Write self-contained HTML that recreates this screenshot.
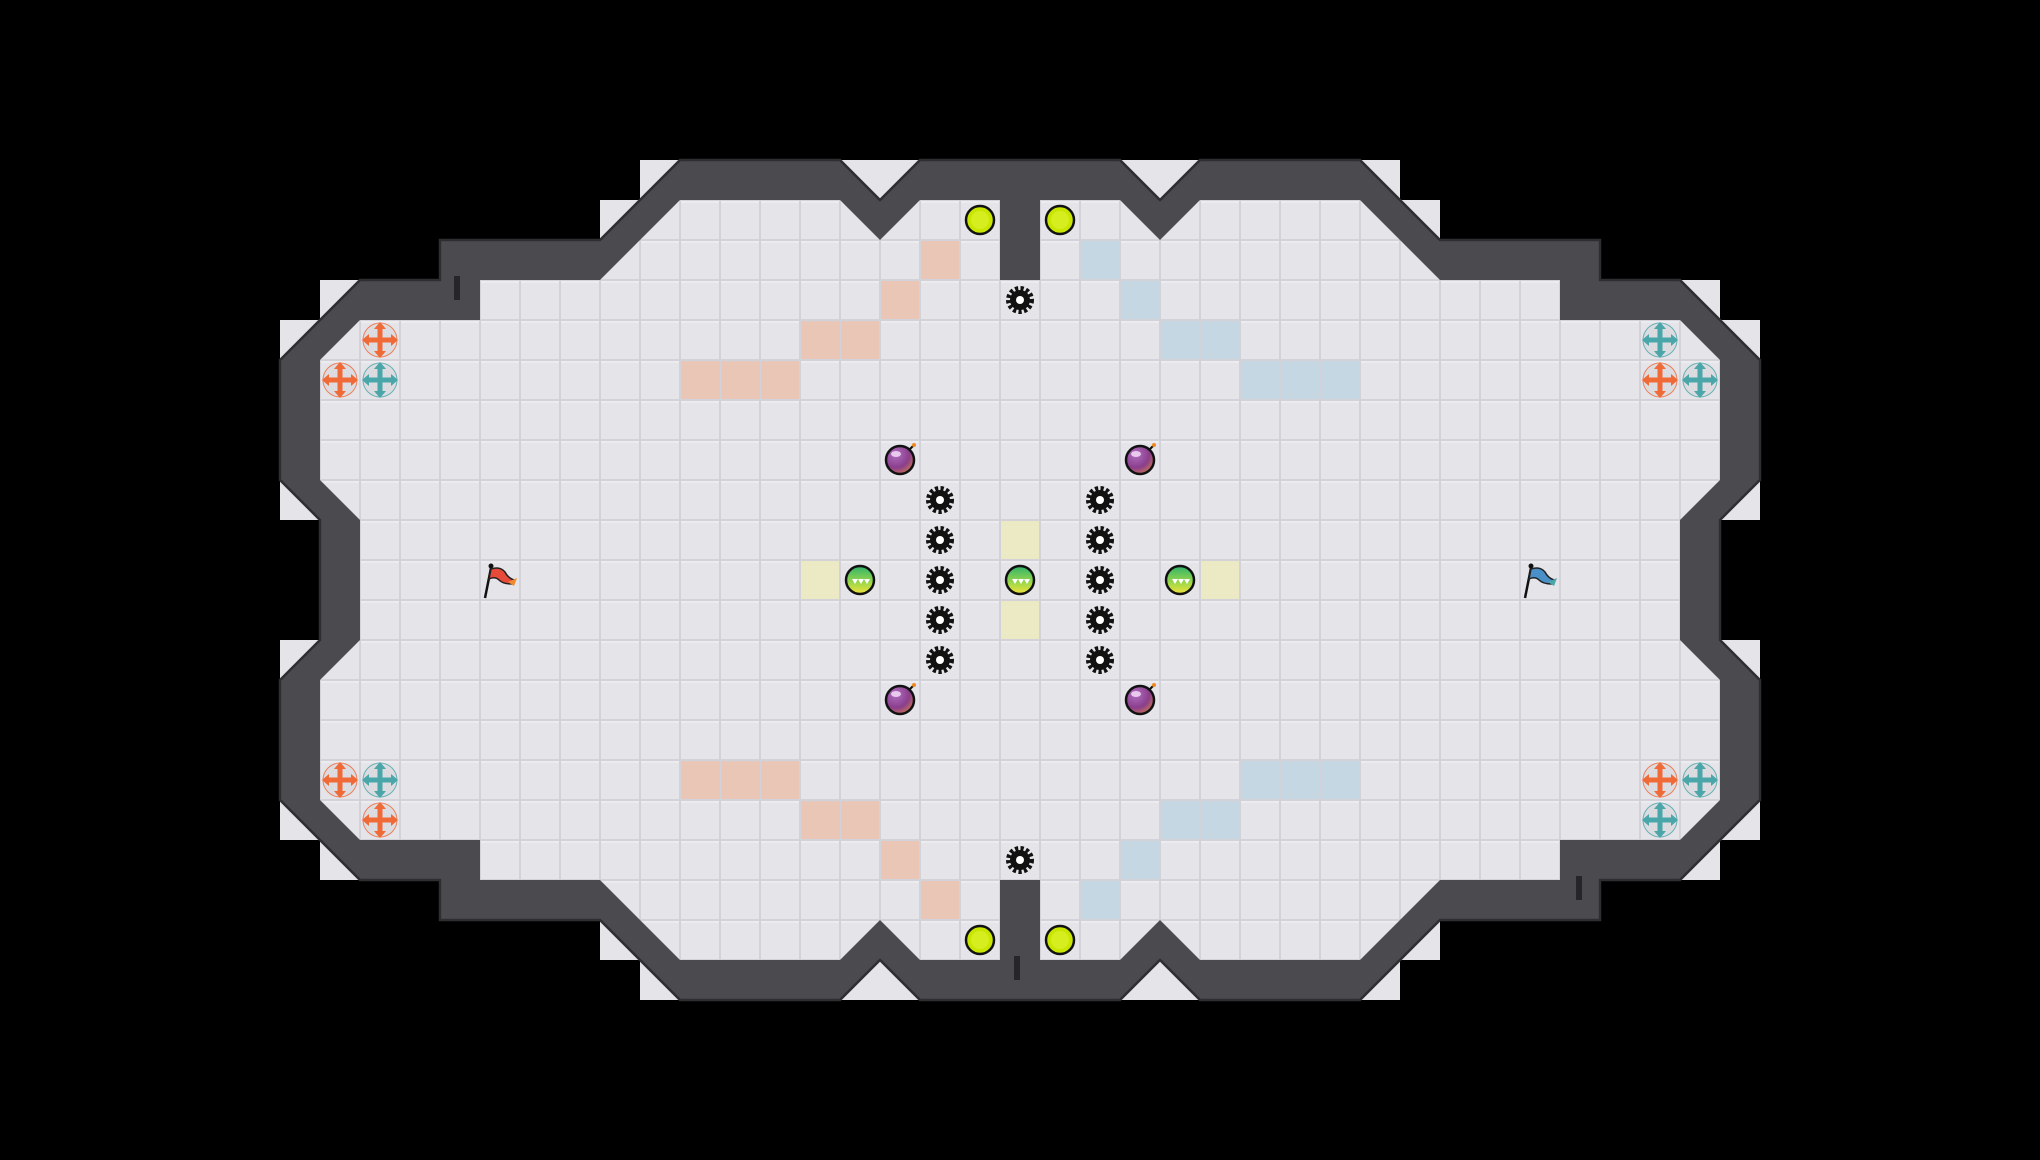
<!DOCTYPE html>
<html><head><meta charset="utf-8"><style>
html,body{margin:0;padding:0;background:#000;width:2040px;height:1160px;overflow:hidden}
svg{display:block}
</style></head><body>
<svg width="2040" height="1160" viewBox="0 0 2040 1160" xmlns="http://www.w3.org/2000/svg">
<defs>
<pattern id="tile" x="280" y="160" width="40" height="40" patternUnits="userSpaceOnUse">
<rect width="40" height="40" fill="#d2d2d8"/>
<rect x="1" y="1" width="38" height="38" fill="#e4e4e9"/>
<rect x="1" y="1" width="38" height="2" fill="#ececf0"/>
</pattern>
<pattern id="lines" x="280" y="160" width="40" height="40" patternUnits="userSpaceOnUse">
<path d="M0,0.5 H40 M0.5,0 V40" stroke="#d2d2d8" stroke-width="1.5" fill="none"/>
</pattern>
<radialGradient id="bombg" cx="0.35" cy="0.3" r="0.8"><stop offset="0" stop-color="#b070c0"/><stop offset="0.6" stop-color="#8a3e8c"/><stop offset="1" stop-color="#d27a4a"/></radialGradient>
<linearGradient id="ballg" x1="0" y1="0" x2="0" y2="1"><stop offset="0" stop-color="#2fb36a"/><stop offset="0.6" stop-color="#9ed84a"/><stop offset="1" stop-color="#f2e23a"/></linearGradient>
<g id="coin"><circle r="14" fill="#c9e600" stroke="#111" stroke-width="2.5"/><circle r="9" fill="#d6ee20"/></g>
<g id="gear"><circle r="11" fill="none" stroke="#111" stroke-width="6" stroke-dasharray="3 2.2"/><circle r="10" fill="#111"/><circle r="4" fill="#fff"/></g>
<g id="bomb"><circle r="14" fill="url(#bombg)" stroke="#111" stroke-width="2.5"/><ellipse cx="-4" cy="-6" rx="5" ry="3" fill="#e9c9ee"/><path d="M9,-10 l4,-4" stroke="#111" stroke-width="2"/><circle cx="14" cy="-15" r="2" fill="#f08a20"/></g>
<g id="ball"><circle r="14" fill="url(#ballg)" stroke="#111" stroke-width="2.5"/><path d="M-8,-1 l3,5 l3,-5 l3,5 l3,-5 l3,5 l3,-5 z" fill="#fff"/></g>
<g id="arr">
<circle r="17" fill="#dadadf" opacity="0.8"/>
<path d="M-12,0 H12 M0,-12 V12" stroke-width="5" fill="none"/>
<path d="M-18,0 l7,-6 v12 z M18,0 l-7,-6 v12 z M0,-18 l-6,7 h12 z M0,18 l-6,-7 h12 z" stroke="none"/>
</g>
<g id="arrO" fill="#f06a38" stroke="#f06a38"><use href="#arr"/></g>
<g id="arrT" fill="#4aa6a8" stroke="#4aa6a8"><use href="#arr"/></g>
</defs>
<g transform="translate(280,160) scale(40)">
<polygon fill="#e4e4e9" points="0,4 1,4 1,3 4,3 4,2 8,2 8,1 9,1 9,0 28,0 28,1 29,1 29,2 33,2 33,3 36,3 36,4 37,4 37,9 36,9 36,12 37,12 37,17 36,17 36,18 33,18 33,19 29,19 29,20 28,20 28,21 9,21 9,20 8,20 8,19 4,19 4,18 1,18 1,17 0,17 0,12 1,12 1,9 0,9"/>
</g>
<g fill="none" stroke="#d2d2d8" stroke-width="1.5">
<path d="M320,320 h40 M320,760 h40 M1680,320 h40 M1680,760 h40"/>
</g>
<g transform="translate(280,160) scale(40)">
<polygon fill="#4a4a4f" stroke="#2e2e32" stroke-width="0.06" stroke-linejoin="miter" points="0,8 0,5 2,3 4,3 4,2 8,2 10,0 14,0 15,1 16,0 21,0 22,1 23,0 27,0 29,2 33,2 33,3 35,3 37,5 37,8 36,9 36,12 37,13 37,16 35,18 33,18 33,19 29,19 27,21 23,21 22,20 21,21 16,21 15,20 14,21 10,21 8,19 4,19 4,18 2,18 0,16 0,13 1,12 1,9"/>
</g>
<polygon fill="url(#tile)" points="320,480 320,360 360,320 480,320 480,280 600,280 680,200 840,200 880,240 920,200 1000,200 1000,280 1040,280 1040,200 1120,200 1160,240 1200,200 1360,200 1440,280 1560,280 1560,320 1680,320 1720,360 1720,480 1680,520 1680,640 1720,680 1720,800 1680,840 1560,840 1560,880 1440,880 1360,960 1200,960 1160,920 1120,960 1040,960 1040,880 1000,880 1000,960 920,960 880,920 840,960 680,960 600,880 480,880 480,840 360,840 320,800 320,680 360,640 360,520"/>
<g fill="#e9c6b6">
<rect x="921" y="241" width="38" height="38"/><rect x="881" y="281" width="38" height="38"/><rect x="801" y="321" width="78" height="38"/><rect x="681" y="361" width="118" height="38"/>
<rect x="921" y="881" width="38" height="38"/><rect x="881" y="841" width="38" height="38"/><rect x="801" y="801" width="78" height="38"/><rect x="681" y="761" width="118" height="38"/>
</g>
<g fill="#c6d7e4">
<rect x="1081" y="241" width="38" height="38"/><rect x="1121" y="281" width="38" height="38"/><rect x="1161" y="321" width="78" height="38"/><rect x="1241" y="361" width="118" height="38"/>
<rect x="1081" y="881" width="38" height="38"/><rect x="1121" y="841" width="38" height="38"/><rect x="1161" y="801" width="78" height="38"/><rect x="1241" y="761" width="118" height="38"/>
</g>
<g fill="#ebeac4">
<rect x="1001" y="521" width="38" height="38"/><rect x="1001" y="601" width="38" height="38"/><rect x="801" y="561" width="38" height="38"/><rect x="1201" y="561" width="38" height="38"/>
</g>
<g fill="url(#lines)">
<rect x="800" y="320" width="81" height="41"/><rect x="680" y="360" width="121" height="41"/>
<rect x="800" y="800" width="81" height="41"/><rect x="680" y="760" width="121" height="41"/>
<rect x="1160" y="320" width="81" height="41"/><rect x="1240" y="360" width="121" height="41"/>
<rect x="1160" y="800" width="81" height="41"/><rect x="1240" y="760" width="121" height="41"/>
</g>
<g fill="#26262a">
<rect x="454" y="276" width="6" height="24"/><rect x="1014" y="956" width="6" height="24"/><rect x="1576" y="876" width="6" height="24"/>
</g>
<use href="#coin" x="980" y="220"/><use href="#coin" x="1060" y="220"/><use href="#coin" x="980" y="940"/><use href="#coin" x="1060" y="940"/>
<use href="#gear" x="1020" y="300"/><use href="#gear" x="1020" y="860"/>
<use href="#gear" x="940" y="500"/><use href="#gear" x="940" y="540"/><use href="#gear" x="940" y="580"/><use href="#gear" x="940" y="620"/><use href="#gear" x="940" y="660"/>
<use href="#gear" x="1100" y="500"/><use href="#gear" x="1100" y="540"/><use href="#gear" x="1100" y="580"/><use href="#gear" x="1100" y="620"/><use href="#gear" x="1100" y="660"/>
<use href="#bomb" x="900" y="460"/><use href="#bomb" x="1140" y="460"/><use href="#bomb" x="900" y="700"/><use href="#bomb" x="1140" y="700"/>
<use href="#ball" x="860" y="580"/><use href="#ball" x="1020" y="580"/><use href="#ball" x="1180" y="580"/>
<g transform="translate(500,580)">
<path d="M-15,18 L-9,-12" stroke="#111" stroke-width="2.5"/><circle cx="-9" cy="-14" r="2.5" fill="#111"/>
<path d="M-9,-11 Q0,-14 5,-8 Q8,-2 14,0 L12,4 Q3,4 -1,0 Q-5,-4 -11,-1 Z" fill="#e84a3a" stroke="#222" stroke-width="1.5"/>
<path d="M8,2 L17,-2 L14,6 Z" fill="#f08a30"/>
</g>
<g transform="translate(1540,580)">
<path d="M-15,18 L-9,-12" stroke="#111" stroke-width="2.5"/><circle cx="-9" cy="-14" r="2.5" fill="#111"/>
<path d="M-9,-11 Q0,-14 5,-8 Q8,-2 14,0 L12,4 Q3,4 -1,0 Q-5,-4 -11,-1 Z" fill="#4a90c8" stroke="#222" stroke-width="1.5"/>
<path d="M8,2 L17,-2 L14,6 Z" fill="#4aa6a8"/>
</g>
<use href="#arrO" x="380" y="340"/><use href="#arrO" x="340" y="380"/><use href="#arrT" x="380" y="380"/>
<use href="#arrO" x="340" y="780"/><use href="#arrT" x="380" y="780"/><use href="#arrO" x="380" y="820"/>
<use href="#arrT" x="1660" y="340"/><use href="#arrO" x="1660" y="380"/><use href="#arrT" x="1700" y="380"/>
<use href="#arrO" x="1660" y="780"/><use href="#arrT" x="1700" y="780"/><use href="#arrT" x="1660" y="820"/>
</svg>
</body></html>
